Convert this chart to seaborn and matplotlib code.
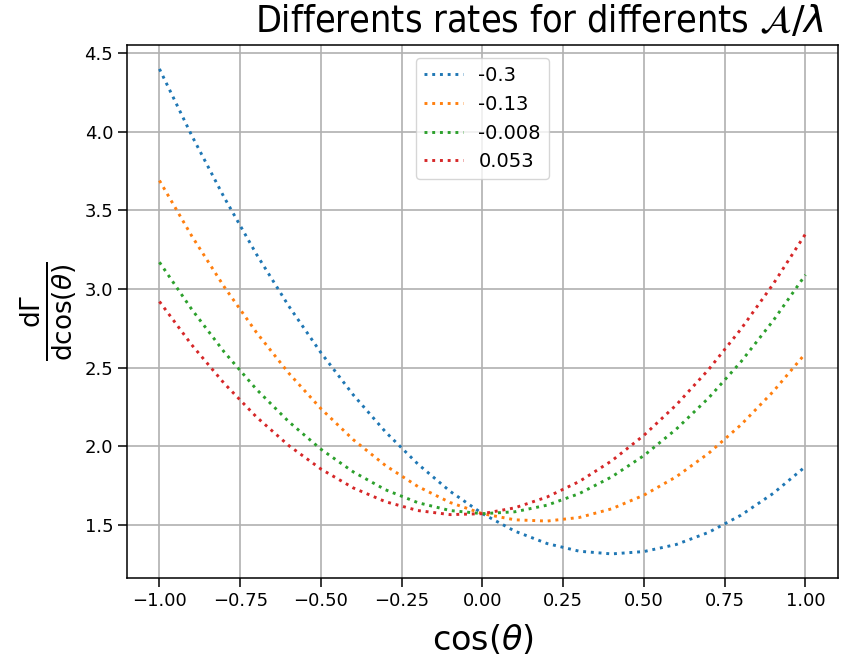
import matplotlib
matplotlib.use("Agg")
import matplotlib.pyplot as plt
import seaborn as sns
import pandas as pd

# cos(theta) sample points
cos_theta = [-1.0, -0.9, -0.8, -0.7, -0.6, -0.5, -0.4, -0.3, -0.2, -0.1, 0.0,
             0.1, 0.2, 0.3, 0.4, 0.5, 0.6, 0.7, 0.8, 0.9, 1.0]

# dGamma/dcos(theta) for each A/lambda value
rate_m0300 = [4.400, 3.976, 3.584, 3.222, 2.892, 2.594, 2.326, 2.090, 1.886, 1.712, 1.570,
              1.459, 1.380, 1.331, 1.314, 1.329, 1.374, 1.451, 1.560, 1.699, 1.870]
rate_m0130 = [3.690, 3.337, 3.015, 2.724, 2.465, 2.238, 2.041, 1.876, 1.743, 1.641, 1.570,
              1.531, 1.523, 1.546, 1.601, 1.688, 1.805, 1.954, 2.135, 2.347, 2.590]
rate_m0008 = [3.170, 2.870, 2.600, 2.362, 2.156, 1.980, 1.836, 1.722, 1.640, 1.590, 1.570,
              1.582, 1.624, 1.698, 1.804, 1.940, 2.108, 2.306, 2.536, 2.798, 3.090]
rate_p0053 = [2.920, 2.644, 2.400, 2.186, 2.004, 1.854, 1.734, 1.646, 1.590, 1.564, 1.570,
              1.607, 1.676, 1.775, 1.906, 2.069, 2.262, 2.487, 2.744, 3.031, 3.350]

series_labels = ["-0.3", "-0.13", "-0.008", "0.053"]
series_values = [rate_m0300, rate_m0130, rate_m0008, rate_p0053]

frames = []
for label, values in zip(series_labels, series_values):
    frames.append(pd.DataFrame({"x": cos_theta, "y": values, "ratio": label}))
df = pd.concat(frames, ignore_index=True)

fig = plt.figure(figsize=(8.42, 6.57), dpi=100)
ax = fig.add_axes([0.151, 0.120, 0.844, 0.812])

sns.lineplot(data=df, x="x", y="y", hue="ratio", hue_order=series_labels,
             palette=sns.color_palette("tab10", 4), linestyle=":", linewidth=2.1,
             ax=ax, sort=False)

ax.grid(True, color="#b0b0b0", linewidth=1.2)
ax.set_axisbelow(True)
for spine in ax.spines.values():
    spine.set_linewidth(1.1)
ax.tick_params(labelsize=13, length=6.5, width=1.1)
ax.set_title(r"Differents rates for differents $\mathcal{A}/\lambda$",
             fontsize=27, fontstretch="condensed", x=0.58, pad=9)
ax.set_xlabel(r"cos($\theta$)", fontsize=24, labelpad=9)
ax.set_ylabel(r"$\frac{\mathrm{d}\Gamma}{\mathrm{d}\cos(\theta)}$", fontsize=27)
ax.set_xticks([-1.0, -0.75, -0.5, -0.25, 0.0, 0.25, 0.5, 0.75, 1.0])
ax.set_yticks([1.5, 2.0, 2.5, 3.0, 3.5, 4.0, 4.5])

leg = ax.legend(loc="upper center", fontsize=14, title=None, borderaxespad=0.7)

fig.savefig("out.png", dpi=100)
